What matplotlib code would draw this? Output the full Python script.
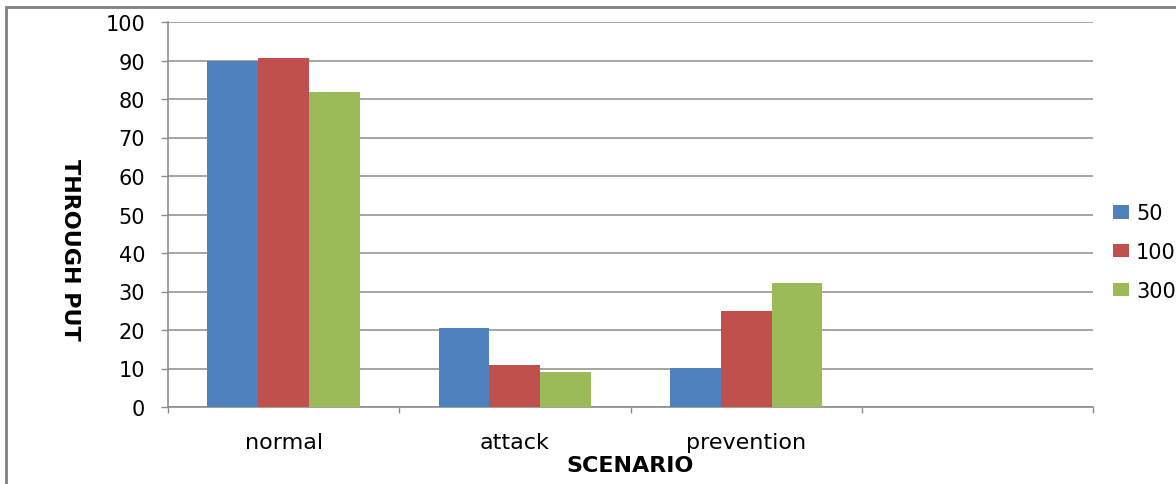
import matplotlib
matplotlib.use("Agg")
import matplotlib.pyplot as plt
from matplotlib.patches import Patch, Rectangle
import numpy as np

plt.rcParams['font.family'] = ['DejaVu Sans']

# Data
scenarios = ["normal", "attack", "prevention"]
series_names = ["50", "100", "300"]
vals_50 = [90.0, 20.5, 10.1]
vals_100 = [90.7, 10.9, 25.0]
vals_300 = [81.9, 9.0, 32.1]
y_ticks = [0, 10, 20, 30, 40, 50, 60, 70, 80, 90, 100]

colors = ["#4F81BD", "#C0504D", "#9BBB59"]
n_slots = 4  # the category axis reserves an extra empty slot

fig = plt.figure(figsize=(11.76, 4.85), dpi=100)
ax = fig.add_axes([168 / 1176, 77 / 485, 925 / 1176, 385 / 485])

centers = np.arange(len(scenarios)) + 0.5
bw = 0.22
for i, (vals, c) in enumerate(zip([vals_50, vals_100, vals_300], colors)):
    ax.bar(centers + (i - 1) * bw, vals, width=bw, color=c, zorder=3, linewidth=0)

ax.set_xlim(0, n_slots)
ax.set_ylim(0, 100)
ax.set_yticks(y_ticks)
ax.tick_params(axis='y', labelsize=15, length=5, color='#8c8c8c', pad=11.5, width=1)
ax.yaxis.grid(True, color='#8c8c8c', linewidth=1.1, zorder=0)

ax.set_xticks(centers)
ax.set_xticklabels(scenarios)
ax.set_xticks(np.arange(n_slots + 1), minor=True)
ax.tick_params(axis='x', which='major', length=0, labelsize=16, pad=18)
ax.tick_params(axis='x', which='minor', length=4.3, color='#8c8c8c', width=1)

for s in ['top', 'right']:
    ax.spines[s].set_visible(False)
for s in ['left', 'bottom']:
    ax.spines[s].set_color('#8c8c8c')
    ax.spines[s].set_linewidth(1.2)

ax.set_xlabel("SCENARIO", fontsize=16, fontweight='bold', va='center')
ax.xaxis.set_label_coords(0.5, -0.151)
ax.set_ylabel("THROUGH PUT", fontsize=16, fontweight='bold', rotation=-90,
              va='center', ha='center')
ax.yaxis.set_label_coords(-0.106, 0.41)

handles = [Patch(facecolor=c, edgecolor='none') for c in colors]
fig.legend(handles, series_names, loc='center left',
           bbox_to_anchor=(1113 / 1176, 1 - 253 / 485), frameon=False,
           fontsize=15, handlelength=0.75, handleheight=0.6, handletextpad=0.35,
           labelspacing=0.9, borderaxespad=0, borderpad=0)

# outer chart frame
fig.patches.append(Rectangle((6 / 1176, -0.2), 1.5, 0.2 + 1 - 8 / 485,
                             transform=fig.transFigure, fill=False,
                             edgecolor='#7f7f7f', linewidth=2))

fig.savefig("out.png", dpi=100)
